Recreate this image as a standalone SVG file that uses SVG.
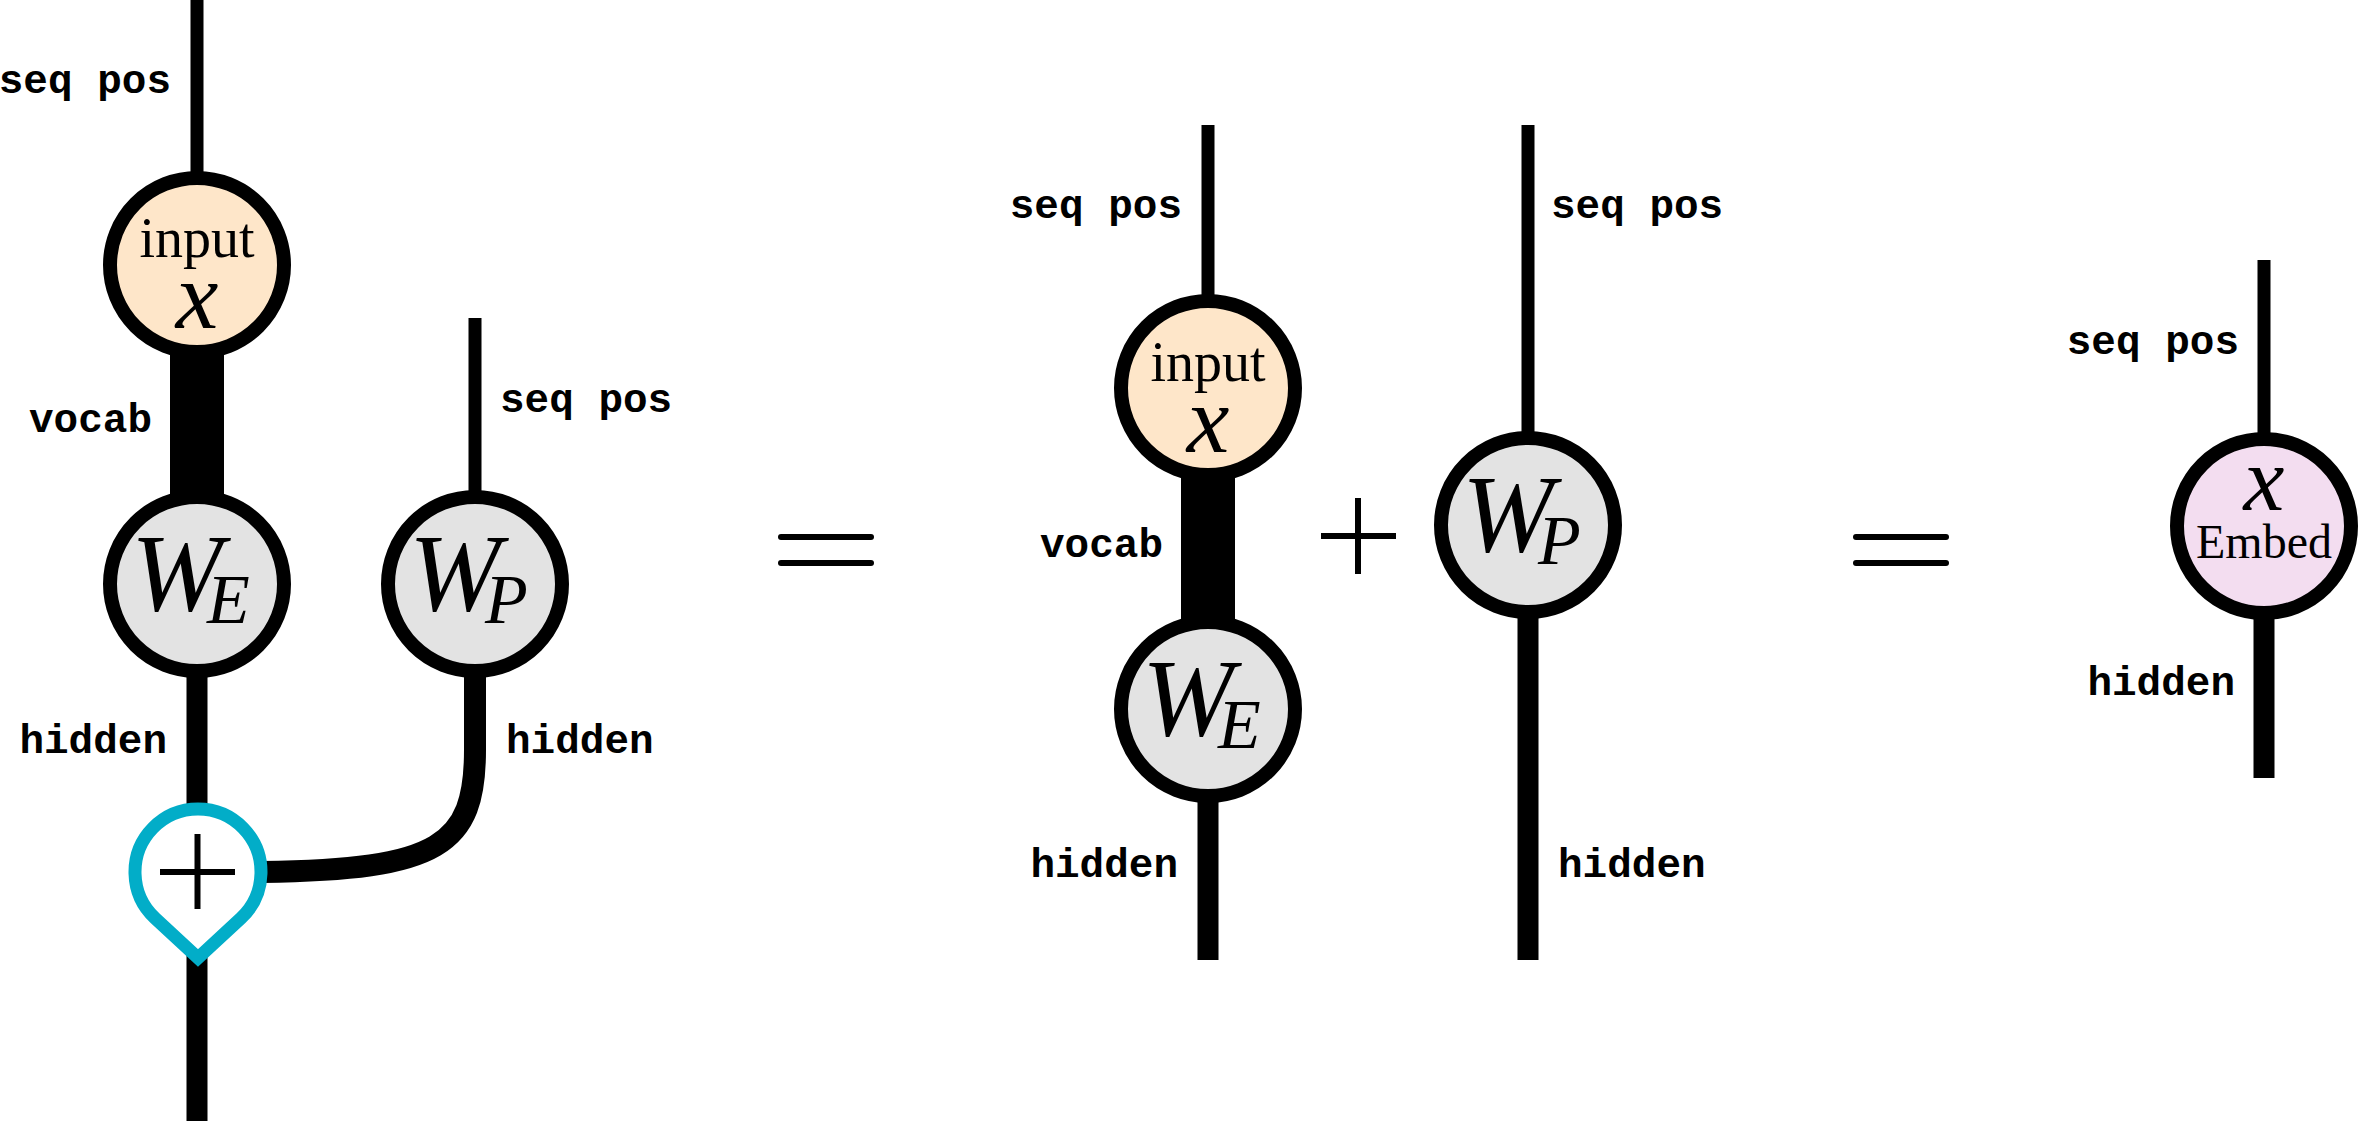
<svg xmlns="http://www.w3.org/2000/svg" width="2358" height="1121" viewBox="0 0 2358 1121">
<style>
.lbl{font-family:"Liberation Mono","Courier New",monospace;font-weight:bold;font-size:41px;fill:#000}
.end{text-anchor:end}
.rm{font-family:"Liberation Serif","Times New Roman",serif;fill:#000}
.it{font-style:italic}
.mid{text-anchor:middle}
.node{stroke:#000;stroke-width:14}
.inp{fill:#FEE6C9}
.w{fill:#E3E3E3}
.emb{fill:#F3DDF0}
.thin{stroke:#000;stroke-width:13;fill:none}
.thick{stroke:#000;stroke-width:21;fill:none}
.sym{stroke:#000;stroke-width:6;fill:none}
.eq{stroke:#000;stroke-width:6;stroke-linecap:round}
.wb{font-size:110px}
.sub{font-size:70px}
</style>
<rect width="2358" height="1121" fill="#fff"/>
<g id="connectors">
  <line class="thin" x1="197" y1="0" x2="197" y2="265"/>
  <rect x="170" y="265" width="54" height="319" fill="#000"/>
  <line class="thick" x1="197" y1="584" x2="197" y2="872"/>
  <line class="thick" x1="197" y1="930" x2="197" y2="1121"/>
  <line class="thin" x1="475" y1="318" x2="475" y2="584"/>
  <path d="M475,584 V750 C475,845 440,870 262,872" stroke="#000" stroke-width="22" fill="none"/>
  <line class="thin" x1="1208" y1="125" x2="1208" y2="388"/>
  <rect x="1181" y="388" width="54" height="321" fill="#000"/>
  <line class="thick" x1="1208" y1="709" x2="1208" y2="960"/>
  <line class="thin" x1="1528" y1="125" x2="1528" y2="525"/>
  <line class="thick" x1="1528" y1="525" x2="1528" y2="960"/>
  <line class="thin" x1="2264" y1="260" x2="2264" y2="526"/>
  <line class="thick" x1="2264" y1="526" x2="2264" y2="778"/>
</g>
<g id="labels">
  <text class="lbl end" x="171" y="93">seq pos</text>
  <text class="lbl end" x="152" y="432">vocab</text>
  <text class="lbl end" x="167" y="753">hidden</text>
  <text class="lbl" x="500" y="412">seq pos</text>
  <text class="lbl" x="506" y="753">hidden</text>
  <text class="lbl end" x="1182" y="218">seq pos</text>
  <text class="lbl end" x="1163" y="557">vocab</text>
  <text class="lbl end" x="1178" y="877">hidden</text>
  <text class="lbl" x="1551" y="218">seq pos</text>
  <text class="lbl" x="1558" y="877">hidden</text>
  <text class="lbl end" x="2239" y="354">seq pos</text>
  <text class="lbl end" x="2235" y="695">hidden</text>
</g>
<g id="input1">
  <circle class="node inp" cx="197" cy="265" r="87"/>
  <text class="rm mid" x="197" y="257" font-size="56">input<tspan class="it" x="197" y="328" font-size="96">x</tspan></text>
</g>
<g id="WE1">
  <circle class="node w" cx="197" cy="584" r="87"/>
  <text class="rm it wb" x="131" y="610">W<tspan class="sub" x="207" y="623">E</tspan></text>
</g>
<g id="WP1">
  <circle class="node w" cx="475" cy="584" r="87"/>
  <text class="rm it wb" x="409" y="610">W<tspan class="sub" x="485" y="623">P</tspan></text>
</g>
<g id="add1">
  <path d="M155.1,918.2 A63,63 0 1 1 240.9,918.2 L198,958 Z" fill="#fff" stroke="#02ADC8" stroke-width="13"/>
  <line class="sym" x1="160" y1="872" x2="235" y2="872"/>
  <line class="sym" x1="197.5" y1="834" x2="197.5" y2="909"/>
</g>
<g id="eq1">
  <line class="eq" x1="781" y1="537" x2="871" y2="537"/>
  <line class="eq" x1="781" y1="563" x2="871" y2="563"/>
</g>
<g id="input2">
  <circle class="node inp" cx="1208" cy="388" r="87"/>
  <text class="rm mid" x="1208" y="381" font-size="56">input<tspan class="it" x="1208" y="452" font-size="96">x</tspan></text>
</g>
<g id="WE2">
  <circle class="node w" cx="1208" cy="709" r="87"/>
  <text class="rm it wb" x="1142" y="735">W<tspan class="sub" x="1218" y="748">E</tspan></text>
</g>
<g id="plus2">
  <line class="sym" x1="1321" y1="536" x2="1396" y2="536"/>
  <line class="sym" x1="1358" y1="498" x2="1358" y2="574"/>
</g>
<g id="WP2">
  <circle class="node w" cx="1528" cy="525" r="87"/>
  <text class="rm it wb" x="1462" y="551">W<tspan class="sub" x="1538" y="564">P</tspan></text>
</g>
<g id="eq2">
  <line class="eq" x1="1856" y1="537" x2="1946" y2="537"/>
  <line class="eq" x1="1856" y1="563" x2="1946" y2="563"/>
</g>
<g id="embed">
  <circle class="node emb" cx="2264" cy="526" r="87"/>
  <text class="rm it mid" x="2264" y="510" font-size="92">x<tspan class="rm" font-style="normal" x="2264" y="558" font-size="48">Embed</tspan></text>
</g>
</svg>
